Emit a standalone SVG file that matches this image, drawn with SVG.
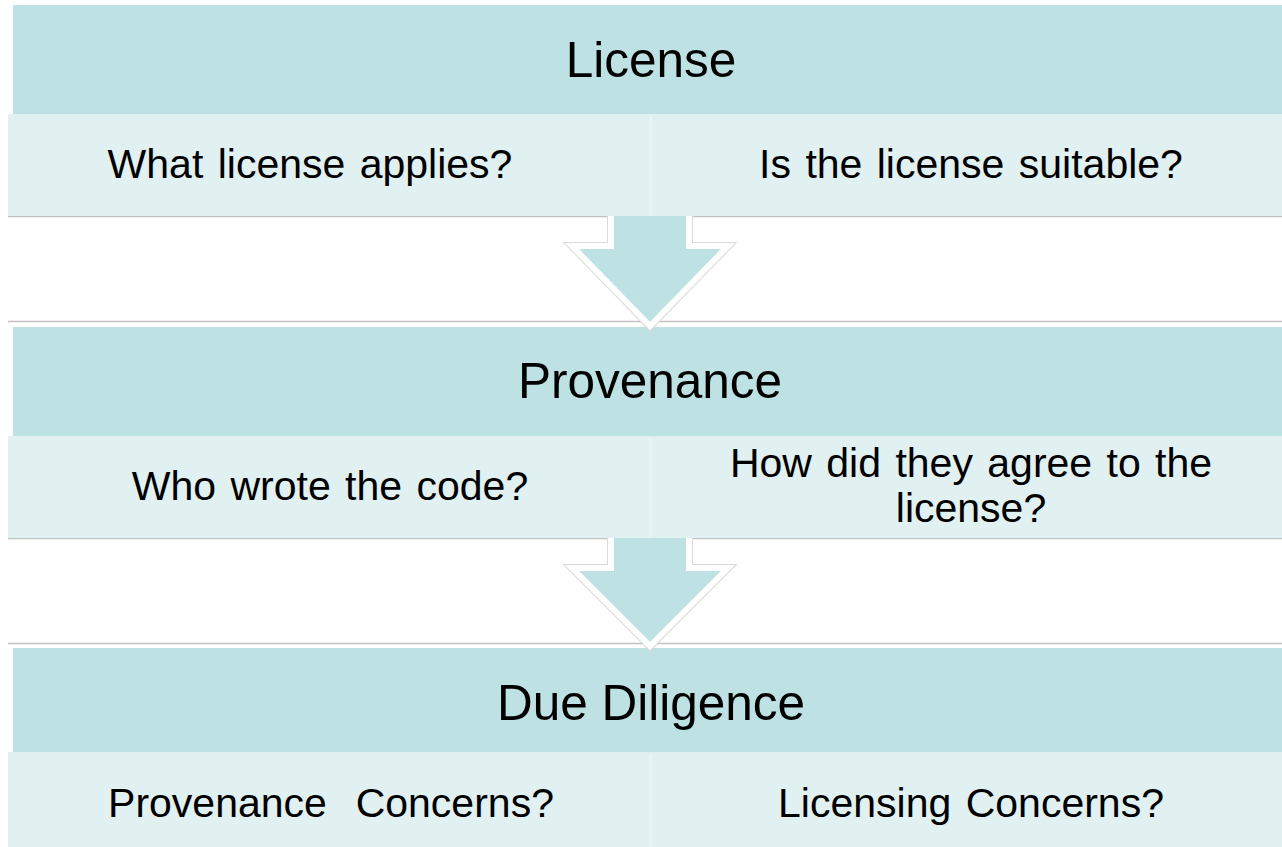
<svg xmlns="http://www.w3.org/2000/svg" width="1282" height="847" viewBox="0 0 1282 847">
<style>
.hdr{fill:#BEE1E3}
.sub{fill:#E1F0F1}
.div{fill:#E9F4F5}
.edge{stroke:#C2C2C2;stroke-width:1.5;fill:none}
.ht{font-family:"Liberation Sans",Arial,sans-serif;font-size:49.5px;fill:#000;text-anchor:middle}
.st{font-family:"Liberation Sans",Arial,sans-serif;font-size:41px;fill:#000;text-anchor:middle;word-spacing:3px}
.arr-sh{fill:none;stroke:#DADADA;stroke-width:8;stroke-linejoin:miter}
.arr{fill:#BEE1E3;stroke:#FFFFFF;stroke-width:6;stroke-linejoin:miter}
</style>
<rect width="1282" height="847" fill="#FFFFFF"/>
<g id="edges">
<line class="edge" x1="8" y1="216.5" x2="1282" y2="216.5"/>
<line class="edge" x1="8" y1="321.5" x2="1282" y2="321.5"/>
<line class="edge" x1="8" y1="538.5" x2="1282" y2="538.5"/>
<line class="edge" x1="8" y1="643.5" x2="1282" y2="643.5"/>
</g>
<g id="header-license"><rect class="hdr" x="13" y="5" width="1269" height="110"/><text class="ht" x="651" y="77">License</text></g>
<g id="header-provenance"><rect class="hdr" x="13" y="327" width="1269" height="110"/><text class="ht" x="650" y="398">Provenance</text></g>
<g id="header-due"><rect class="hdr" x="13" y="648" width="1269" height="105"/><text class="ht" x="651" y="720">Due Diligence</text></g>
<g id="connectors">
<g id="arrow1">
<polygon class="arr-sh" points="611,200 689,200 689,246 728,246 650,326 572,246 611,246"/>
<polygon class="arr" points="611,200 689,200 689,246 728,246 650,326 572,246 611,246"/>
</g>
<g id="arrow2">
<polygon class="arr-sh" points="611,520 689,520 689,568 728,568 650,646 572,568 611,568"/>
<polygon class="arr" points="611,520 689,520 689,568 728,568 650,646 572,568 611,568"/>
</g>
</g>
<g id="sub-license">
<rect class="sub" x="8" y="114" width="1274" height="102"/>
<rect class="div" x="649" y="116" width="3" height="100"/>
<text class="st" x="310" y="178">What license applies?</text>
<text class="st" x="971" y="178">Is the license suitable?</text>
</g>
<g id="sub-provenance">
<rect class="sub" x="8" y="436" width="1274" height="102"/>
<rect class="div" x="649" y="438" width="3" height="100"/>
<text class="st" x="330" y="500">Who wrote the code?</text>
<text class="st" x="971" y="477">How did they agree to the</text>
<text class="st" x="971" y="522">license?</text>
</g>
<g id="sub-due">
<rect class="sub" x="8" y="752" width="1274" height="95"/>
<rect class="div" x="649" y="754" width="3" height="93"/>
<text class="st" x="331" y="817" xml:space="preserve">Provenance  Concerns?</text>
<text class="st" x="971" y="817">Licensing Concerns?</text>
</g>
</svg>
